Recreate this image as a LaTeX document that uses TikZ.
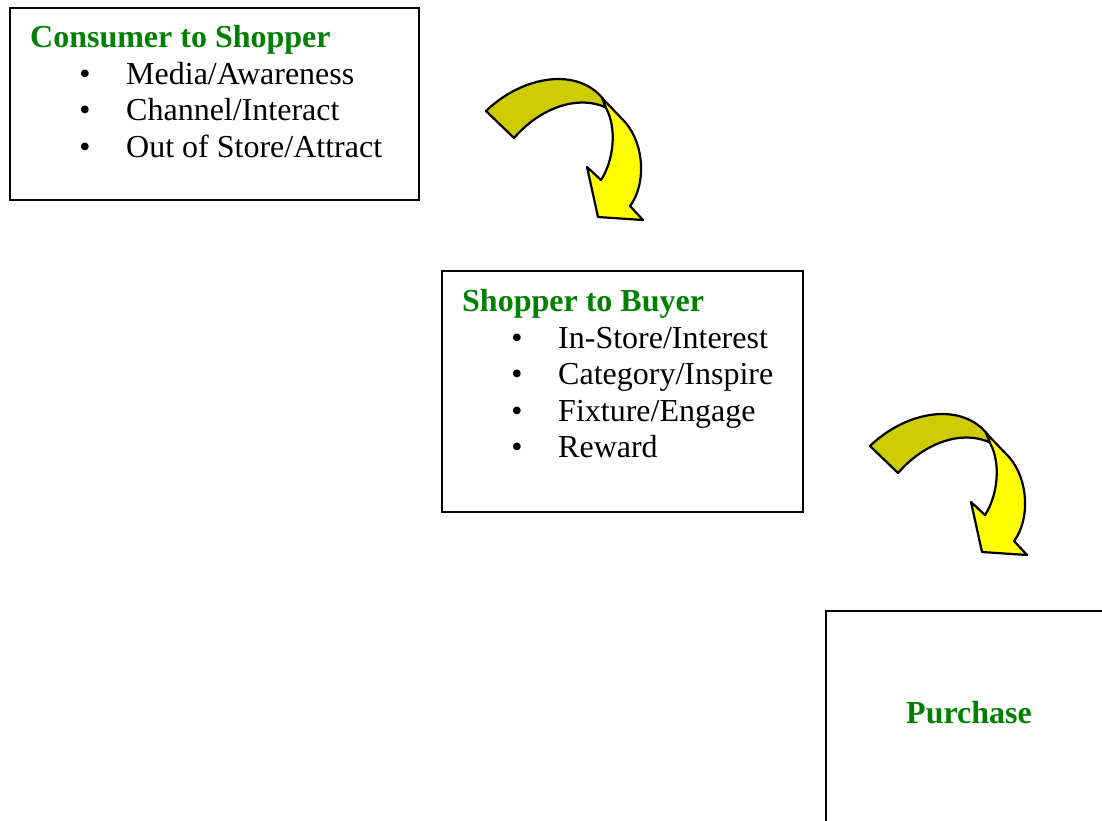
\documentclass[tikz,border=0pt]{standalone}
\usepackage{fontspec}
\setmainfont{Liberation Serif}
\definecolor{titlegreen}{RGB}{0,128,0}
\definecolor{bandolive}{RGB}{204,204,0}
\definecolor{headyellow}{RGB}{255,255,0}
\begin{document}
\begin{tikzpicture}[x=1pt,y=-1pt,
  box/.style={draw=black,line width=2pt,anchor=north west,inner sep=0pt},
  title/.style={anchor=base west,inner sep=0pt,text=titlegreen,font=\fontsize{32}{37}\selectfont\bfseries},
  item/.style={anchor=base west,inner sep=0pt,font=\fontsize{32}{37}\selectfont},
  dot/.style={anchor=base,inner sep=0pt,font=\fontsize{32}{37}\selectfont},
  arrowline/.style={draw=black,line width=2.2pt,line join=round},
  bentarrow/.pic={
    \filldraw[arrowline,fill=bandolive] (486,111) .. controls (522,76) and (578,66) .. (604,100)
      -- (607,108) .. controls (578,94) and (540,108) .. (514,138) -- cycle;
    \filldraw[arrowline,fill=headyellow] (602,98) -- (625,122)
      .. controls (645,145) and (646,185) .. (630,206) -- (643,220) -- (598,217)
      -- (587,167) -- (601,180) .. controls (614,160) and (617,128) .. (606,108) -- cycle;
  }]
\useasboundingbox (0,0) rectangle (1102,820);
\clip (0,0) rectangle (1102,820);
\fill[white] (0,0) rectangle (1102,820);
% Box 1
\node[box,minimum width=409,minimum height=192] (b1) at (9,7) {};
\node[title] (t1) at (30,47.5) {Consumer to Shopper};
\node[dot] (d11) at (85,84) {•};
\node[item] (i11) at (126,84) {Media/Awareness};
\node[dot] (d12) at (85,120.7) {•};
\node[item] (i12) at (126,120.7) {Channel/Interact};
\node[dot] (d13) at (85,157.4) {•};
\node[item] (i13) at (126,157.4) {Out of Store/Attract};
% Box 2
\node[box,minimum width=361,minimum height=241] (b2) at (441,270) {};
\node[title] (t2) at (462,311.5) {Shopper to Buyer};
\node[dot] (d21) at (517,348) {•};
\node[item] (i21) at (558,348) {In-Store/Interest};
\node[dot] (d22) at (517,384.5) {•};
\node[item] (i22) at (558,384.5) {Category/Inspire};
\node[dot] (d23) at (517,421) {•};
\node[item] (i23) at (558,421) {Fixture/Engage};
\node[dot] (d24) at (517,457.5) {•};
\node[item] (i24) at (558,457.5) {Reward};
% Box 3
\node[box,minimum width=300,minimum height=230] (b3) at (825,610) {};
\node[title,anchor=base] (t3) at (969,723.5) {Purchase};
% Arrows
\pic (a1) at (0,0) {bentarrow};
\pic (a2) at (384,335) {bentarrow};
\end{tikzpicture}
\end{document}
